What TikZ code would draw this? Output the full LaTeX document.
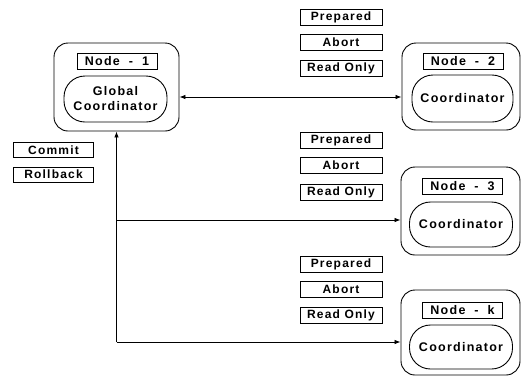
\documentclass[tikz,border=0pt]{standalone}
\usepackage{fontspec}
\newfontfamily\dfont{Liberation Sans Bold}[LetterSpace=10]
\usetikzlibrary{arrows.meta}
\tikzset{
  outer/.style={draw, line width=0.9pt, rounded corners=14pt, inner sep=0pt},
  lbl/.style={draw, line width=0.9pt, minimum width=80pt, minimum height=16pt, inner sep=0pt, font=\dfont\fontsize{12.5}{13}\selectfont},
  msg/.style={draw, line width=0.8pt, minimum width=82pt, minimum height=16pt, inner sep=0pt, font=\dfont\fontsize{12}{13}\selectfont},
  coord/.style={draw, line width=0.9pt, rounded corners=21pt, inner sep=0pt, align=center, font=\dfont\fontsize{12.5}{15}\selectfont},
  conn/.style={line width=0.8pt, -{Latex[length=6pt,width=4.5pt]}},
}
\newcommand\dsp{\hspace{9pt}}
\begin{document}
\begin{tikzpicture}[x=1pt,y=-1pt]
\useasboundingbox (0,0) rectangle (521,376);
% Node 1
\node[outer, minimum width=125pt, minimum height=88pt] (n1) at (116.5,87) {};
\node[lbl] (l1) at (117,61) {Node\dsp-\dsp1};
\node[coord, minimum width=103pt, minimum height=46pt] (g1) at (115.5,99) {Global\\Coordinator};
% Node 2
\node[outer, minimum width=118pt, minimum height=87pt] (n2) at (461,86.5) {};
\node[lbl] (l2) at (463,61) {Node\dsp-\dsp2};
\node[coord, minimum width=101pt, minimum height=47pt] (c2) at (462.5,98.5) {Coordinator};
% Node 3
\node[outer, minimum width=119pt, minimum height=88pt] (n3) at (460.5,211) {};
\node[lbl] (l3) at (462.5,186.5) {Node\dsp-\dsp3};
\node[coord, minimum width=103pt, minimum height=45pt] (c3) at (461,224.5) {Coordinator};
% Node k
\node[outer, minimum width=119pt, minimum height=85pt] (nk) at (460.5,332.5) {};
\node[lbl] (lk) at (462.5,310) {Node\dsp-\dsp k};
\node[coord, minimum width=103pt, minimum height=44pt] (ck) at (461,347) {Coordinator};
% messages
\node[msg] (p1) at (341,17.5) {Prepared};
\node[msg] (a1) at (341,42.5) {Abort};
\node[msg] (r1) at (341,68) {Read Only};
\node[msg] (p2) at (341,140) {Prepared};
\node[msg] (a2) at (341,165.5) {Abort};
\node[msg] (r2) at (341,192.5) {Read Only};
\node[msg] (p3) at (341,264) {Prepared};
\node[msg] (a3) at (341,289) {Abort};
\node[msg] (r3) at (341,315) {Read Only};
\node[msg, minimum width=80pt, minimum height=15pt] (cm) at (53.5,150) {Commit};
\node[msg, minimum width=80pt, minimum height=15pt] (rb) at (53.5,174.5) {Rollback};
% connectors
\coordinate (j3) at (116.5,220);
\coordinate (jk) at (116.5,342);
\coordinate (h2) at (180,97);
\draw[conn, {Latex[length=6pt,width=4.5pt]}-{Latex[length=6pt,width=4.5pt]}] (h2 -| n1.east) -- (h2 -| n2.west);
\draw[conn] (jk) -- (n1.south);
\draw[conn] (j3) -- (j3 -| n3.west);
\draw[conn] (jk) -- (jk -| nk.west);
\end{tikzpicture}
\end{document}
